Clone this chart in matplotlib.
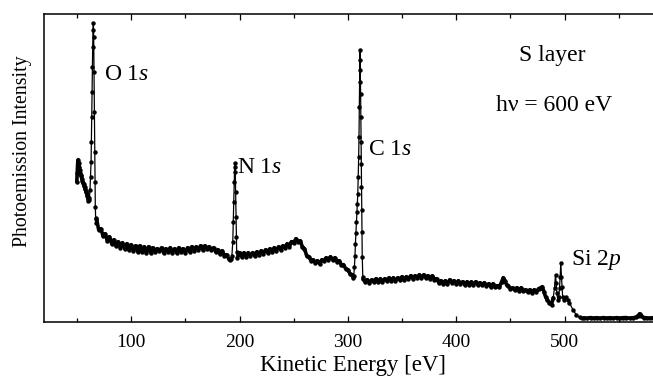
import matplotlib
matplotlib.use("Agg")
import matplotlib.pyplot as plt
from matplotlib.ticker import MultipleLocator

plt.rcParams['font.family'] = ['Liberation Serif', 'DejaVu Serif']
plt.rcParams['mathtext.fontset'] = 'custom'
plt.rcParams['mathtext.rm'] = 'Liberation Serif'
plt.rcParams['mathtext.it'] = 'Liberation Serif:italic'

# ---- data (kinetic energy in eV, photoemission intensity in arb. units) ----
seg_low_e = [49.8, 50.2, 50.6, 51.0, 51.5, 52.0, 52.5, 53.0, 53.5, 54.0, 54.5, 55.0, 55.5,
             56.0, 56.5, 57.0, 57.5, 58.0, 58.5, 59.0, 59.5, 60.0, 60.5, 61.0, 61.5]
seg_low_i = [140, 149, 158, 162, 159, 155, 152, 149, 147, 146, 143, 141, 139,
             138, 136, 135, 133, 131, 130, 128, 126, 124, 121, 122, 124]

o1s_e = [62.0, 62.5, 63.0, 63.3, 63.6, 63.9, 64.2, 64.5, 64.8, 65.1, 65.4, 65.7, 66.0,
         66.3, 66.6, 66.9, 67.2, 67.6]
o1s_i = [132, 145, 160, 180, 205, 230, 255, 275, 292, 299, 285, 250, 210,
         170, 140, 115, 104, 99]

bg1_e = [68, 70, 72, 74, 76, 78, 80, 82, 84, 86, 88, 90, 92, 94, 96, 98, 100, 102, 104,
         106, 108, 110, 112, 114, 116, 118, 120, 122, 124, 126, 128, 130, 132, 134, 136,
         138, 140, 142, 144, 146, 148, 150, 152, 154, 156, 158, 160, 162, 164, 166, 168,
         170, 172, 174, 176, 178, 180, 182, 184, 186, 188, 190, 191]
bg1_i = [103, 92, 93, 86, 88, 81, 85, 78, 82, 76,
         80, 74, 79, 73, 78, 72, 77, 71, 76, 70,
         76, 70, 75, 69, 75, 69, 74, 70, 73, 71,
         74, 69, 73, 70, 74, 69, 73, 69, 74, 70,
         73, 69, 74, 70, 75, 71, 75, 72, 76, 72,
         76, 73, 75, 72, 74, 70, 72, 68, 71, 66,
         67, 63, 62]

n1s_e = [192.0, 193.0, 193.8, 194.3, 194.7, 195.1, 195.5, 195.8, 196.1, 196.4, 196.7,
         197.0, 197.4]
n1s_i = [63, 66, 80, 100, 120, 140, 155, 159, 150, 130, 105, 85, 70]

bg2_e = [198, 200, 202, 204, 206, 208, 210, 212, 214, 216, 218, 220, 222, 224, 226, 228,
         230, 232, 234, 236, 238, 240, 242, 244, 246, 248, 250, 252, 254, 256, 258, 260,
         262, 264, 266, 268, 270, 272, 274, 276, 278, 280, 282, 284, 286, 288, 290, 292,
         294, 296, 298, 300, 302, 304, 305]
bg2_i = [64, 69, 65, 69, 65, 69, 66, 69, 66, 70,
         67, 71, 68, 72, 69, 73, 70, 74, 71, 75,
         72, 76, 74, 78, 75, 80, 79, 83, 80, 81,
         75, 73, 66, 65, 61, 62, 59, 61, 58, 62,
         61, 64, 62, 65, 62, 64, 60, 61, 57, 57,
         53, 52, 48, 47, 44]

c1s_e = [305.5, 306.1, 306.6, 307.0, 307.5, 308.0, 308.4, 308.8, 309.2, 309.6, 310.0,
         310.3, 310.6, 310.8, 311.0, 311.2, 311.5, 311.8, 312.0, 312.2, 312.4, 312.6,
         312.8, 313.0, 313.3, 313.8]
c1s_i = [46, 55, 66, 78, 89, 100, 110, 118, 128, 145, 165,
         185, 215, 240, 262, 272, 252, 228, 205, 180, 158, 135,
         112, 90, 65, 45]

bg3_e = [314, 316, 318, 320, 322, 324, 326, 328, 330, 332, 334, 336, 338, 340, 342, 344,
         346, 348, 350, 352, 354, 356, 358, 360, 362, 364, 366, 368, 370, 372, 374, 376,
         378, 380, 382, 384, 386, 388, 390, 392, 394, 396, 398, 400, 402, 404, 406, 408,
         410, 412, 414, 416, 418, 420, 422, 424, 426, 428, 430, 432, 434, 436, 438, 440,
         442, 443.5, 445, 446.5, 448, 450, 452, 454, 456, 458, 460, 462, 464, 466, 468,
         470, 472, 474, 476, 478, 479.5, 481, 482.5, 484, 486, 488, 489.6]
bg3_i = [43, 40, 42, 39, 42, 40, 43, 40, 43, 40, 43, 41, 44, 41, 44, 41,
         44, 42, 45, 42, 45, 43, 46, 43, 46, 44, 47, 44, 47, 44, 46, 43,
         46, 42, 43, 39, 41, 38, 41, 38, 42, 39, 41, 38, 41, 38, 40, 37,
         40, 37, 40, 37, 40, 37, 39, 37, 39, 36, 38, 35, 38, 35, 36, 35,
         40, 44, 41, 37, 36, 33, 34, 32, 34, 31, 34, 31, 32, 30, 32,
         29, 32, 30, 33, 34, 35, 30, 25, 22, 19, 17, 24]

si2p_e = [490.8, 491.7, 492.3, 492.9, 493.8, 494.7, 495.4, 496.0, 496.6, 497.2, 497.8,
          498.3, 499.9, 501.5, 503.0, 504.6, 507.7, 510.8, 513.9, 515.7]
si2p_i = [34, 47, 39, 29, 22, 25, 34, 45, 59, 45, 35,
          25, 22, 25, 22, 19, 12, 7, 4.3, 3.7]

tail_e = [518, 521, 524, 527, 530, 533, 536, 539, 542, 545, 548, 551, 554, 557, 560, 563,
          566, 568, 569.4, 571, 573, 576, 579, 582, 585, 588]
tail_i = [3.8, 3.4, 4.1, 3.5, 4.0, 3.4, 4.1, 3.5, 4.0, 3.4, 4.1, 3.5, 4.0, 4.1, 3.5, 3.9,
          4.5, 6.2, 8.0, 6.0, 4.2, 3.8, 3.5, 4.0, 3.5, 3.8]

energy = seg_low_e + o1s_e + bg1_e + n1s_e + bg2_e + c1s_e + bg3_e + si2p_e + tail_e
intensity = seg_low_i + o1s_i + bg1_i + n1s_i + bg2_i + c1s_i + bg3_i + si2p_i + tail_i

background_segments = [(seg_low_e, seg_low_i), (bg1_e, bg1_i), (bg2_e, bg2_i),
                       (bg3_e, bg3_i), (tail_e, tail_i)]

x_major_ticks = [100, 200, 300, 400, 500]
x_tick_labels = ['100', '200', '300', '400', '500']

# ---- figure ----
W, H = 653, 377
fig = plt.figure(figsize=(W / 100, H / 100), dpi=100)
left_px, right_px, top_px, bottom_px = 44.5, 662.0, 14.0, 321.7
ax = fig.add_axes([left_px / W, 1 - bottom_px / H,
                   (right_px - left_px) / W, (bottom_px - top_px) / H])

# dense noisy background appears as a thick band in the original
for be, bi in background_segments:
    ax.plot(be, bi, color='black', lw=2.6, solid_joinstyle='round', solid_capstyle='round')
ax.plot(energy, intensity, color='black', lw=0.9, marker='o', ms=3.2,
        markeredgewidth=0, markerfacecolor='black')

ax.set_xlim(20, 590)
ax.set_ylim(0, 307.7)

ax.set_xticks(x_major_ticks)
ax.set_xticklabels(x_tick_labels)
ax.xaxis.set_minor_locator(MultipleLocator(50))
ax.set_yticks([])
ax.tick_params(axis='x', which='both', direction='in', top=True, bottom=True,
               labelsize=14, pad=8.5, width=0.9)
ax.tick_params(axis='x', which='major', length=4.3)
ax.tick_params(axis='x', which='minor', length=2.6)
for s in ax.spines.values():
    s.set_linewidth(1.1)

ax.set_xlabel('Kinetic Energy [eV]', fontsize=16.5, labelpad=3.5)
ax.set_ylabel('Photoemission Intensity', fontsize=14.3)
ax.yaxis.set_label_coords(-12.5 / (right_px - left_px), (bottom_px - 151) / (bottom_px - top_px))

ax.text(74.5, 242, r'O 1$s$', fontsize=17, ha='left', va='baseline')
ax.text(197.8, 149, r'N 1$s$', fontsize=17, ha='left', va='baseline')
ax.text(318.4, 167, r'C 1$s$', fontsize=17, ha='left', va='baseline')
ax.text(506.2, 57, r'Si 2$p$', fontsize=17, ha='left', va='baseline')
ax.text(488.9, 261, 'S layer', fontsize=17, ha='center', va='baseline')
ax.text(490.8, 211, 'h\u03bd = 600 eV', fontsize=17, ha='center', va='baseline')

fig.savefig('out.png', dpi=100)
